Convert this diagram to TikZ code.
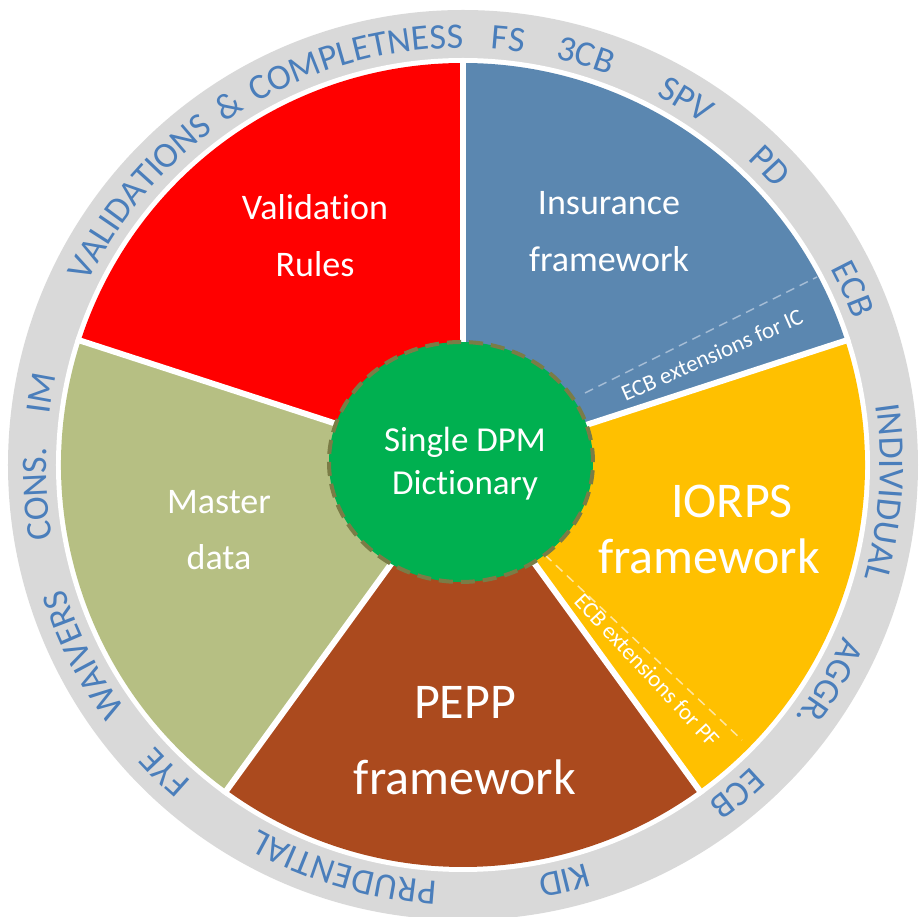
\documentclass[tikz,border=0pt]{standalone}
\usepackage{fontspec}
\setmainfont{Carlito}[Ligatures={NoCommon}]
\usetikzlibrary{decorations.text}
\definecolor{ringgrey}{HTML}{D9D9D9}
\definecolor{ringblue}{HTML}{4A7EBB}
\definecolor{secred}{HTML}{FF0000}
\definecolor{secblue}{HTML}{5B87B0}
\definecolor{secyellow}{HTML}{FFC000}
\definecolor{secbrown}{HTML}{AB4A1E}
\definecolor{secolive}{HTML}{B6BF83}
\definecolor{dpmgreen}{HTML}{00B050}
\definecolor{dpmborder}{HTML}{7A7C46}
\definecolor{dashblue}{HTML}{A6BDD6}
\definecolor{dashyellow}{HTML}{FFE6A0}
\tikzset{
  seclabel/.style={text=white, font=\fontsize{36}{40}\selectfont, anchor=base, inner sep=0pt},
  biglabel/.style={text=white, font=\fontsize{50}{56}\selectfont, anchor=base, inner sep=0pt},
  dpmlabel/.style={text=white, font=\fontsize{35}{40}\selectfont, anchor=base, inner sep=0pt},
  extlabel/.style={text=white, font=\fontsize{23}{26}\selectfont, inner sep=0pt},
  seam/.style={white, line width=6pt},
  extline/.style={line width=1.5pt, dash pattern=on 9pt off 6pt},
}
\newcommand{\ringword}[3]{%
  \path[decorate, decoration={text along path, text={|\fontsize{36}{40}\selectfont|#3}, text align=center, text color=ringblue}]
    ({#1+#2}:417pt) arc[start angle={#1+#2}, end angle={#1-#2}, radius=417pt];}
\begin{document}
\begin{tikzpicture}[x=1pt,y=1pt]
\useasboundingbox (-463,-452) rectangle (456,465);
% outer ring
\fill[ringgrey] (0,0) circle[radius=455pt];
\fill[white] (0,0) circle[radius=407pt];
% sectors
\fill[secred] (0,0) -- (90:402pt) arc[start angle=90,end angle=162,radius=402pt] -- cycle;
\fill[secolive] (0,0) -- (162:402pt) arc[start angle=162,end angle=234,radius=402pt] -- cycle;
\fill[secbrown] (0,0) -- (234:402pt) arc[start angle=234,end angle=306,radius=402pt] -- cycle;
\fill[secyellow] (0,0) -- (306:402pt) arc[start angle=306,end angle=378,radius=402pt] -- cycle;
\fill[secblue] (0,0) -- (18:402pt) arc[start angle=18,end angle=90,radius=402pt] -- cycle;
\foreach \a in {18,90,162,234,306} \draw[seam] (0,0) -- (\a:407pt);
% extension dashed lines
\draw[extline, dashblue] (122,72) -- (354,188);
\draw[extline, dashyellow] (82,-90) -- (279,-275);
% central dictionary
\draw[dpmborder, line width=4pt, dash pattern=on 14pt off 8pt, fill=dpmgreen] (-2,3) ellipse[x radius=132pt, y radius=120pt];
% labels
\node[seclabel] (val1) at (-148,245) {Validation};
\node[seclabel] (val2) at (-148,188) {Rules};
\node[seclabel] (ins1) at (146,250) {Insurance};
\node[seclabel] (ins2) at (146,193) {framework};
\node[seclabel] (mas1) at (-244,-49) {Master};
\node[seclabel] (mas2) at (-244,-105) {data};
\node[biglabel] (ior1) at (269,-53) {IORPS};
\node[biglabel] (ior2) at (246,-109) {framework};
\node[biglabel] (pep1) at (2,-254) {PEPP};
\node[biglabel] (pep2) at (2,-330) {framework};
\node[dpmlabel] (dpm1) at (2,13) {Single DPM};
\node[dpmlabel] (dpm2) at (2,-30) {Dictionary};
\node[extlabel, rotate=23.8] (extic) at (249,110) {ECB extensions for IC};
\node[extlabel, rotate=-47] (extpf) at (184,-205) {ECB extensions for PF};
% ring words
\ringword{122}{45}{VALIDATIONS {\hspace{5pt}\&\hspace{5pt}} COMPLETNESS}
\ringword{83.9}{10}{FS}
\ringword{73.3}{10}{3CB}
\ringword{58.6}{10}{SPV}
\ringword{44.2}{10}{PD}
\ringword{24.3}{10}{ECB}
\ringword{-3.7}{20}{INDIVIDUAL}
\ringword{-30.8}{10}{AGGR.}
\ringword{-50.1}{10}{ECB}
\ringword{-76.3}{10}{KID}
\ringword{253.6}{20}{PRUDENTIAL}
\ringword{225.8}{10}{FYE}
\ringword{206.6}{15}{WAIVERS}
\ringword{183.9}{10}{CONS.}
\ringword{170.3}{10}{IM}
\end{tikzpicture}
\end{document}
